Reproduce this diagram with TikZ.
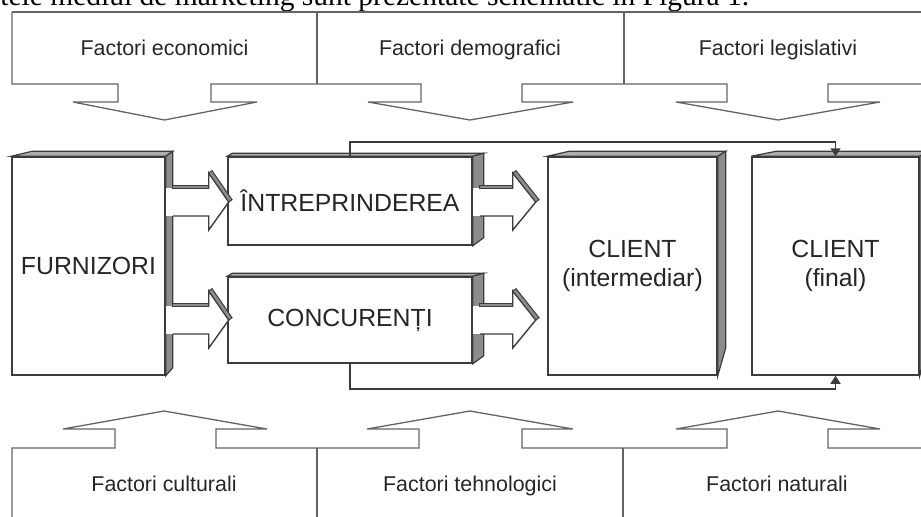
\documentclass[tikz,border=0pt]{standalone}
\usepackage{fontspec}
\setmainfont{Liberation Sans}
\newfontfamily\captionserif{Liberation Serif}
\usetikzlibrary{arrows.meta, positioning, calc}

\definecolor{sidegray}{RGB}{140,140,140}
\definecolor{topgray}{RGB}{175,175,175}
\definecolor{boxline}{RGB}{60,60,60}
\definecolor{factorline}{RGB}{100,100,100}

% 3D block arrow: #1 start on front face, #2 shaft length, #3 head length
\newcommand{\blockarrow}[3]{%
  \fill[white] #1 ++(0,-14) rectangle ++(#2,28);
  \filldraw[fill=white, draw=boxline, line width=0.7pt] #1 ++(7,-14) -- ++(#2-7,0) -- ++(0,-15) -- ++(#3,29) -- ++(-#3,28) -- ++(0,-14) -- ++(-#2+7,0);
  \filldraw[fill=sidegray, draw=boxline, line width=0.5pt] ($#1+(7,-17)$) rectangle ($#1+(#2,-14)$);
  \filldraw[fill=sidegray, draw=boxline, line width=0.5pt] ($#1+(#2,-29)$) -- ++(3.3,-2.3) -- ($#1+(#2+#3+3.3,-2.3)$) -- ($#1+(#2+#3,0)$) -- cycle;
}

\begin{document}
\begin{tikzpicture}[x=0.5pt, y=-0.5pt,
  factor/.style={anchor=base, inner sep=0pt, font=\fontsize{10.7}{13}\selectfont, text=black!85},
  outline/.style={draw=factorline, line width=0.65pt, line join=miter},
  box/.style={draw=boxline, fill=white, line width=0.75pt, align=center, inner sep=0pt, font=\fontsize{12.4}{14.8}\selectfont, text=black!85},
  side/.style={fill=sidegray, draw=boxline, line width=0.6pt},
  top/.style={fill=topgray, draw=boxline, line width=0.6pt},
  link/.style={draw=boxline, line width=0.8pt, -{Triangle[length=4pt, width=5pt]}}
]
\useasboundingbox (0,0) rectangle (921,516);
\clip (0,0) rectangle (921,516);

% text line above the figure (cut off)
\node[anchor=base west, inner sep=0pt, font=\captionserif\fontsize{14.75}{17}\selectfont] (cap) at (0,5) {tele mediul de marketing sunt prezentate schematic în Figura 1.};

% upper factors
\node[factor] (econ) at (164.5,55) {Factori economici};
\node[factor] (demo) at (470,55) {Factori demografici};
\node[factor] (legi) at (778,55) {Factori legislativi};

\draw[outline] (12,12) -- (930,12);
\draw[outline] (12,12) -- (12,84) -- (118,84) -- (118,102) -- (73,102) -- (164.5,120) -- (257,102) -- (211,102) -- (211,84)
  -- (421,84) -- (421,102) -- (368,102) -- (470,120) -- (573,102) -- (522,102) -- (522,84)
  -- (727,84) -- (727,102) -- (676,102) -- (778,120) -- (880,102) -- (828,102) -- (828,84) -- (930,84);
\draw[outline] (317,12) -- (317,84);
\draw[outline] (624,12) -- (624,84);

% lower factors
\node[factor] (cult) at (164,491) {Factori culturali};
\node[factor] (tehn) at (470,491) {Factori tehnologici};
\node[factor] (natu) at (777,491) {Factori naturali};

\draw[outline] (12,530) -- (12,448) -- (115,448) -- (115,429) -- (63,429) -- (164,411) -- (267,429) -- (216,429) -- (216,448)
  -- (419,448) -- (419,429) -- (367,429) -- (470,411) -- (573,429) -- (522,429) -- (522,448)
  -- (727,448) -- (727,429) -- (676,429) -- (778,411) -- (880,429) -- (828,429) -- (828,448) -- (930,448);
\draw[outline] (317,448) -- (317,530);
\draw[outline] (623,448) -- (623,530);

% market actors
\node[box, minimum width=76.5pt, minimum height=109pt] (furn) at (88.5,266) {FURNIZORI};
\node[box, minimum width=122pt, minimum height=44pt] (intr) at (350,201) {ÎNTREPRINDEREA};
\node[box, minimum width=122pt, minimum height=43pt] (conc) at (350,320) {CONCURENȚI};
\node[box, minimum width=84.5pt, minimum height=109pt] (clin) at (632.5,266) {CLIENT\\(intermediar)};
\node[box, minimum width=83.5pt, minimum height=109pt] (clfi) at (835.5,266) {CLIENT\\(final)};

% 3D faces
\filldraw[top] (furn.north west) -- ++(21,-5) -- ($(furn.north east)+(7,-5)$) -- (furn.north east) -- cycle;
\filldraw[side] (furn.north east) -- ++(7,-5) -- ($(furn.south east)+(7,-8)$) -- (furn.south east) -- cycle;
\filldraw[top] (intr.north west) -- ++(5,-3) -- ($(intr.north east)+(11,-3)$) -- (intr.north east) -- cycle;
\filldraw[side] (intr.north east) -- ++(11,-3) -- ($(intr.south east)+(11,-8)$) -- (intr.south east) -- cycle;
\filldraw[top] (conc.north west) -- ++(5,-3) -- ($(conc.north east)+(11,-3)$) -- (conc.north east) -- cycle;
\filldraw[side] (conc.north east) -- ++(11,-3) -- ($(conc.south east)+(11,-8)$) -- (conc.south east) -- cycle;
\filldraw[top] (clin.north west) -- ++(22,-5) -- ($(clin.north east)+(8,-5)$) -- (clin.north east) -- cycle;
\filldraw[side] (clin.north east) -- ++(8,-5) -- ($(clin.south east)+(8,-28)$) -- (clin.south east) -- cycle;
\filldraw[top] (clfi.north west) -- ++(25,-5) -- ($(clfi.north east)+(8,-5)$) -- (clfi.north east) -- cycle;
\filldraw[side] (clfi.north east) -- ++(8,-5) -- ($(clfi.south east)+(8,-28)$) -- (clfi.south east) -- cycle;

% flows
\blockarrow{(furn.east |- 0,202)}{43}{20}
\blockarrow{(furn.east |- 0,320)}{43}{20}
\blockarrow{(intr.east |- 0,202)}{40}{23}
\blockarrow{(conc.east |- 0,320)}{40}{23}

\draw[link] (intr.north) -- ++(0,-14) -| (clfi.north);
\draw[link] (conc.south) -- ++(0,25) -| (clfi.south);

\end{tikzpicture}
\end{document}
